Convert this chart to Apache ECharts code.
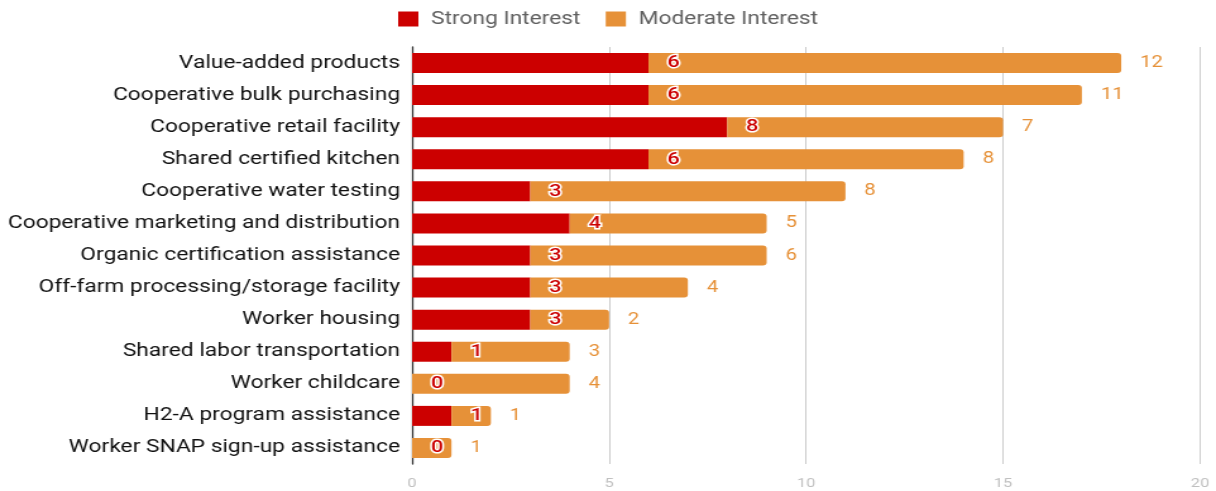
<!DOCTYPE html>
<html>
<head>
<meta charset="utf-8">
<style>
  html, body { margin: 0; padding: 0; background: #fff; overflow: hidden; }
  /* The chart is laid out on a narrower canvas and widened to the page width,
     which gives the text its broad, stretched look. */
  #chart {
    width: 962px;
    height: 491px;
    transform: scaleX(1.264);
    transform-origin: 0 0;
  }
</style>
<script src="https://cdn.jsdelivr.net/npm/echarts@6/dist/echarts.min.js"></script>
</head>
<body>
<div id="chart"></div>
<script>
// Farm cooperative interest survey: strong vs moderate interest per service
const categories = [
  'Value-added products',
  'Cooperative bulk purchasing',
  'Cooperative retail facility',
  'Shared certified kitchen',
  'Cooperative water testing',
  'Cooperative marketing and distribution',
  'Organic certification assistance',
  'Off-farm processing/storage facility',
  'Worker housing',
  'Shared labor transportation',
  'Worker childcare',
  'H2-A program assistance',
  'Worker SNAP sign-up assistance'
];
const strongInterest = [6, 6, 8, 6, 3, 4, 3, 3, 3, 1, 0, 1, 0];
const moderateInterest = [12, 11, 7, 8, 8, 5, 6, 4, 2, 3, 4, 1, 1];
const xTicks = [0, 5, 10, 15, 20];

const chart = echarts.init(document.getElementById('chart'), null, { renderer: 'canvas' });

chart.setOption({
  animation: false,
  textStyle: { fontFamily: 'Roboto' },
  legend: {
    top: 5,
    left: 310,
    itemWidth: 16,
    itemHeight: 15,
    itemGap: 20,
    icon: 'rect',
    textStyle: { fontFamily: 'Roboto', fontSize: 18, color: '#606060', padding: [0, 0, 0, 5] },
    data: ['Strong Interest', 'Moderate Interest']
  },
  grid: { left: 326, right: 12.6, top: 47, bottom: 27, containLabel: false },
  xAxis: {
    type: 'value',
    min: xTicks[0],
    max: xTicks[xTicks.length - 1],
    interval: 5,
    axisLine: { show: false },
    axisTick: { show: false },
    axisLabel: { color: '#c0c0c0', fontSize: 13, margin: 13, fontFamily: 'Roboto' },
    splitLine: { lineStyle: { color: '#cccccc', width: 1 } }
  },
  yAxis: {
    type: 'category',
    inverse: true,
    data: categories,
    axisLine: { show: true, lineStyle: { color: '#333', width: 1.3 } },
    axisTick: { show: false },
    axisLabel: { color: '#111', fontSize: 18, margin: 9.5, fontFamily: 'Roboto' }
  },
  series: [
    {
      name: 'Strong Interest',
      type: 'bar',
      stack: 'interest',
      barWidth: 20,
      data: strongInterest,
      itemStyle: { color: '#cc0000' },
      label: {
        show: true,
        position: 'right',
        distance: 15,
        color: '#cc0000',
        fontSize: 17,
        fontWeight: 500,
        textBorderColor: '#ffffff',
        textBorderWidth: 3,
        fontFamily: 'Roboto'
      },
      z: 2
    },
    {
      name: 'Moderate Interest',
      type: 'bar',
      stack: 'interest',
      barWidth: 20,
      data: moderateInterest,
      itemStyle: { color: '#e69138', borderRadius: [0, 3, 3, 0] },
      label: {
        show: true,
        position: 'right',
        distance: 15,
        color: '#e69138',
        fontSize: 16,
        fontFamily: 'Roboto'
      },
      z: 2
    }
  ]
});
</script>
</body>
</html>
